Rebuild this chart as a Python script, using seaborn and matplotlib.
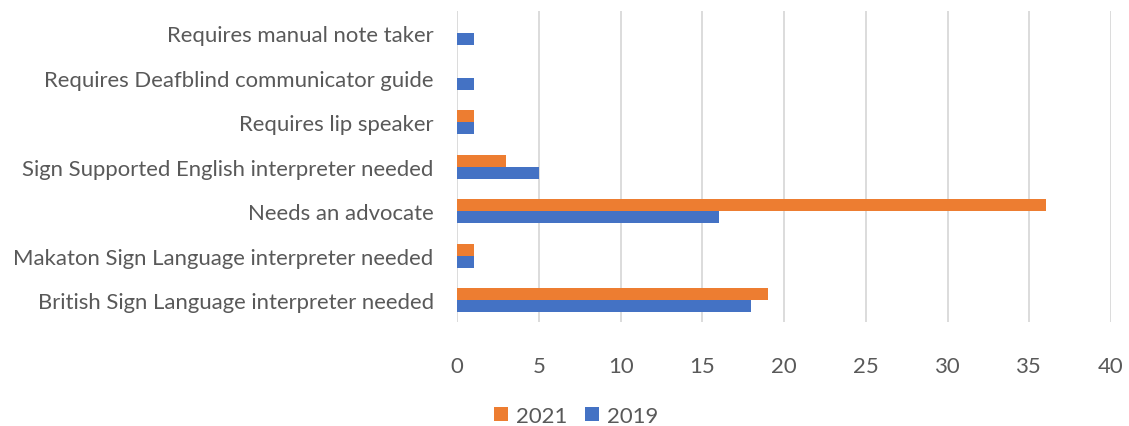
import matplotlib
matplotlib.use("Agg")
import matplotlib.pyplot as plt
import seaborn as sns
import pandas as pd

categories = [
    "Requires manual note taker",
    "Requires Deafblind communicator guide",
    "Requires lip speaker",
    "Sign Supported English interpreter needed",
    "Needs an advocate",
    "Makaton Sign Language interpreter needed",
    "British Sign Language interpreter needed",
]
values_2021 = [0, 0, 1, 3, 36, 1, 19]
values_2019 = [1, 1, 1, 5, 16, 1, 18]
years = ["2021", "2019"]
x_ticks = [0, 5, 10, 15, 20, 25, 30, 35, 40]

df = pd.DataFrame({
    "need": categories * 2,
    "count": values_2021 + values_2019,
    "year": [years[0]] * len(categories) + [years[1]] * len(categories),
})

sns.set_theme(style="white")
plt.rcParams["font.family"] = ["Lato", "DejaVu Sans"]
text_color = "#595959"
fs = 15.9

fig = plt.figure(figsize=(11.29, 4.27), dpi=100)
ax = fig.add_axes([0.405, 0.243, 0.579, 0.729])

sns.barplot(
    data=df, x="count", y="need", hue="year", hue_order=years,
    order=categories, orient="h", width=0.54,
    palette={"2021": "#ED7D31", "2019": "#4472C4"},
    ax=ax, saturation=1, edgecolor="none",
)

ax.set_xlim(0, 40)
ax.set_xticks(x_ticks)
ax.set_ylim(len(categories) - 0.5, -0.5)
ax.xaxis.grid(True, color="#D9D9D9", linewidth=1.3)
ax.set_axisbelow(True)
for s in ax.spines.values():
    s.set_visible(False)
ax.set_xlabel("")
ax.set_ylabel("")
ax.tick_params(axis="both", length=0, colors=text_color, labelsize=fs)
ax.tick_params(axis="x", pad=24)
ax.tick_params(axis="y", pad=17)

handles, labels = ax.get_legend_handles_labels()
ax.legend_.remove()
fig.legend(handles, labels, loc="center", bbox_to_anchor=(0.51, 0.024),
           ncol=2, frameon=False, fontsize=fs, labelcolor=text_color,
           handlelength=0.65, handleheight=0.65, handletextpad=0.35,
           columnspacing=0.8)

fig.savefig("out.png", dpi=100)
